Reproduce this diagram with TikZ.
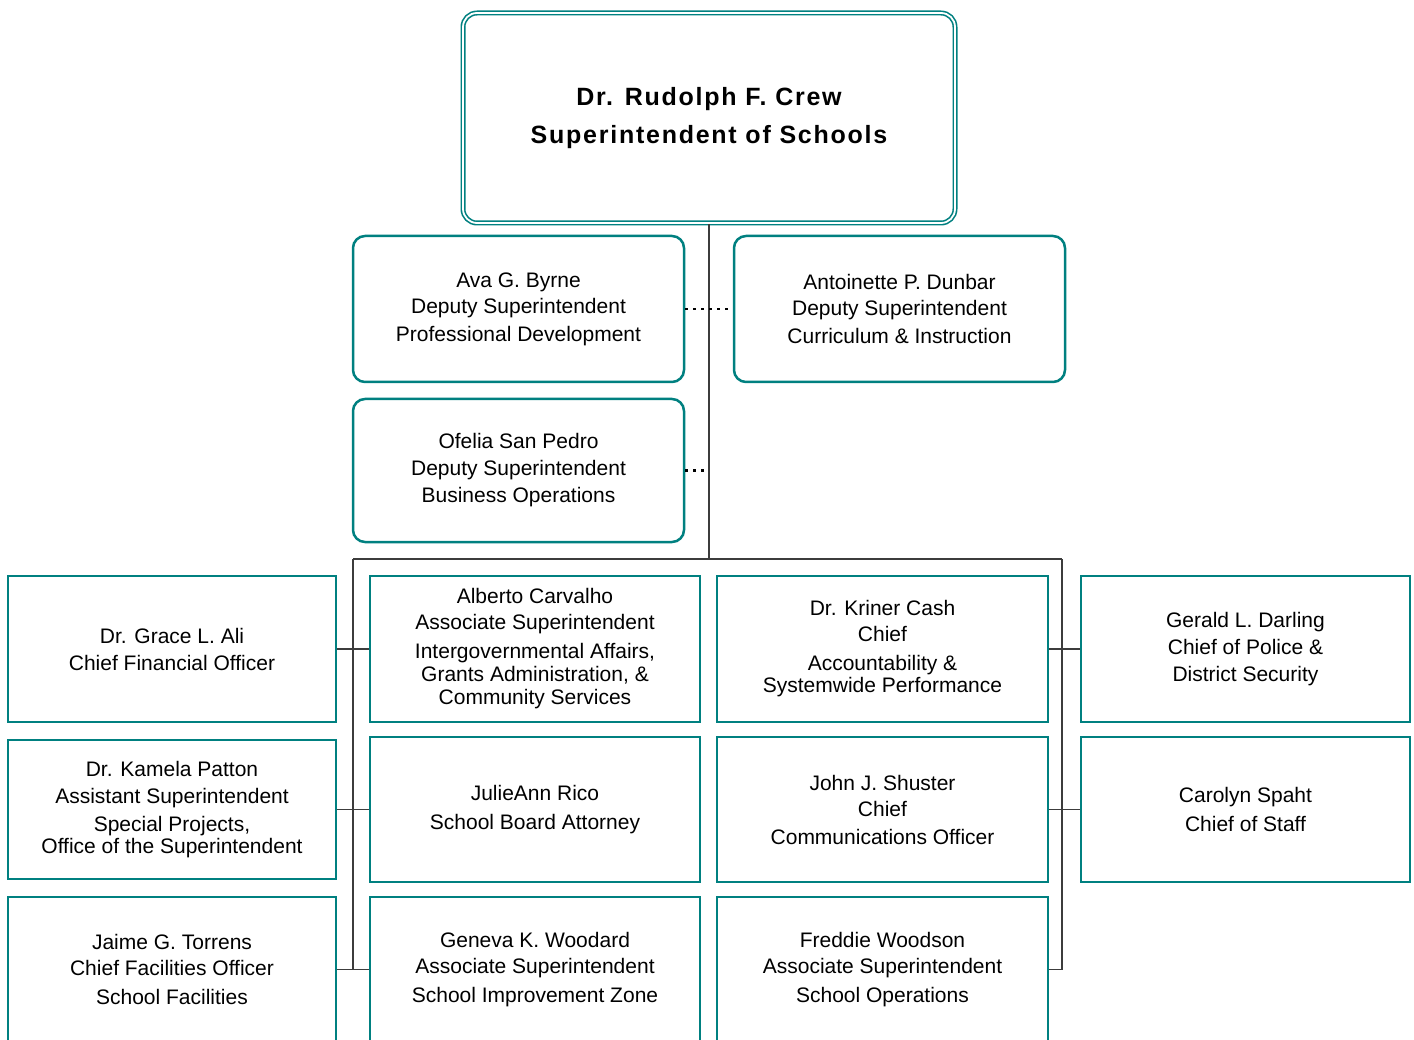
\documentclass[tikz,border=0pt]{standalone}
\usepackage{fontspec}
\setmainfont{Liberation Sans}
\definecolor{tealline}{RGB}{0,128,128}
\definecolor{connline}{RGB}{60,60,60}
\begin{document}
\begin{tikzpicture}[x=1pt,y=-1pt,
  txt/.style={align=center,font=\fontsize{21}{27}\selectfont,inner sep=0pt,text=black},
  rbox/.style={txt,draw=tealline,line width=2.5pt,rounded corners=12pt,rectangle},
  sbox/.style={txt,draw=tealline,line width=2.8pt,rectangle},
  topbox/.style={align=center,font=\bfseries\fontsize{25}{38}\selectfont\addfontfeature{LetterSpace=7},inner sep=0pt,
    draw=tealline,line width=1.6pt,double=white,double distance=1.8pt,rounded corners=14pt,rectangle},
  conn/.style={draw=connline,line width=1.2pt},
  dots/.style={draw=black,line width=2.5pt,dash pattern=on 2.5pt off 5.5pt}]
\path[use as bounding box,clip] (0,0) rectangle (1414,1040);
\fill[white] (0,0) rectangle (1414,1040);

% top
\node[topbox,minimum width=492,minimum height=210] (top) at (709,118)
  {Dr. Rudolph F. Crew\\Superintendent of Schools};

% deputies
\node[rbox,minimum width=331,minimum height=146] (byrne) at (518.5,309)
  {Ava G. Byrne\\[-1pt]Deputy Superintendent\\[1pt]Professional Development};
\node[rbox,minimum width=331,minimum height=146] (dunbar) at (899.5,309)
  {Antoinette P. Dunbar\\[-1pt]Deputy Superintendent\\[1pt]Curriculum \& Instruction};
\node[rbox,minimum width=331,minimum height=143] (sanpedro) at (518.5,470.5)
  {Ofelia San Pedro\\Deputy Superintendent\\Business Operations};

% row 1
\node[sbox,minimum width=328,minimum height=146] (ali) at (172,649)
  {Dr. Grace L. Ali\\Chief Financial Officer};
\node[sbox,minimum width=330,minimum height=146] (carvalho) at (535,649)
  {Alberto Carvalho\\[-1pt]Associate Superintendent\\[2pt]Intergovernmental Affairs,\\[-4pt]Grants Administration, \&\\[-4pt]Community Services};
\node[sbox,minimum width=331,minimum height=146] (cash) at (882.5,649)
  {Dr. Kriner Cash\\[-1pt]Chief\\[2pt]Accountability \&\\[-5pt]Systemwide Performance};
\node[sbox,minimum width=329,minimum height=146] (darling) at (1245.5,649)
  {Gerald L. Darling\\Chief of Police \&\\District Security};

% row 2
\node[sbox,minimum width=328,minimum height=139] (patton) at (172,809.5)
  {Dr. Kamela Patton\\Assistant Superintendent\\[1pt]Special Projects,\\[-5pt]Office of the Superintendent};
\node[sbox,minimum width=330,minimum height=145] (rico) at (535,809.5)
  {JulieAnn Rico\\[2pt]School Board Attorney};
\node[sbox,minimum width=331,minimum height=145] (shuster) at (882.5,809.5)
  {John J. Shuster\\[-1pt]Chief\\[1pt]Communications Officer};
\node[sbox,minimum width=329,minimum height=145] (spaht) at (1245.5,809.5)
  {Carolyn Spaht\\[2pt]Chief of Staff};

% row 3
\node[sbox,minimum width=328,minimum height=145] (torrens) at (172,969.5)
  {Jaime G. Torrens\\[-1pt]Chief Facilities Officer\\[2pt]School Facilities};
\node[sbox,minimum width=330,minimum height=145] (woodard) at (535,969.5)
  {Geneva K. Woodard\\[-1pt]Associate Superintendent\\[2pt]School Improvement Zone};
\node[sbox,minimum width=331,minimum height=145] (woodson) at (882.5,969.5)
  {Freddie Woodson\\[-1pt]Associate Superintendent\\[2pt]School Operations};

% bus coordinates
\coordinate (busL) at (353,559);
\coordinate (busR) at (1062,559);

% connectors
\draw[conn] (top.south) -- (top.south |- busL);
\draw[conn] (busL) -- (busR);
\draw[conn] (busL) -- (busL |- torrens.east);
\draw[conn] (busR) -- (busR |- woodson.east);
\draw[conn] (ali.east) -- (carvalho.west);
\draw[conn] (patton.east) -- (rico.west);
\draw[conn] (torrens.east) -- (woodard.west);
\draw[conn] (cash.east) -- (darling.west);
\draw[conn] (shuster.east) -- (spaht.west);
\draw[conn] (woodson.east) -- (woodson.east -| busR);

% dotted staff links
\draw[dots] (byrne.east) -- (dunbar.west);
\draw[dots] (sanpedro.east) -- (sanpedro.east -| top.south);
\end{tikzpicture}
\end{document}
